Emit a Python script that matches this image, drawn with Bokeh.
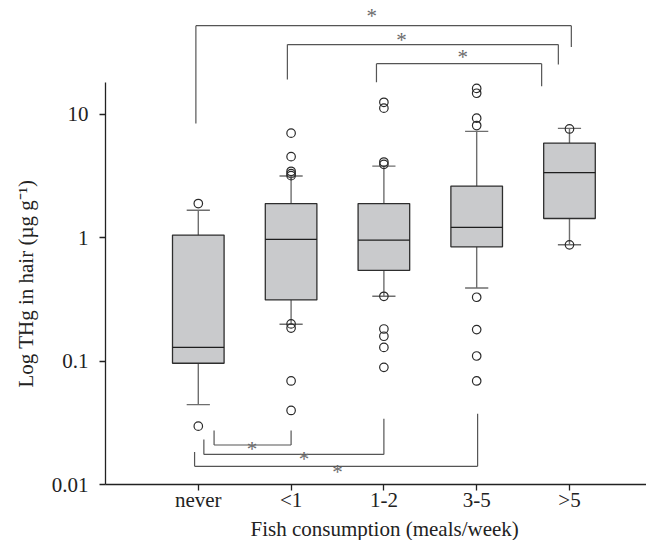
from bokeh.plotting import figure
from bokeh.models import FixedTicker, ColumnDataSource, Title
from bokeh.core.properties import value
from bokeh.embed import file_html
from bokeh.resources import INLINE

# ---- data ----
categories = ["never", "<1", "1-2", "3-5", ">5"]
positions = [1, 2, 3, 4, 5]
q1 = [0.096, 0.313, 0.543, 0.843, 1.43]
median = [0.129, 0.967, 0.954, 1.21, 3.37]
q3 = [1.05, 1.89, 1.89, 2.62, 5.84]
whisker_low = [0.0444, 0.199, 0.335, 0.391, 0.875]
whisker_high = [1.67, 3.16, 3.8, 7.26, 7.68]
outliers = [
    [1.89, 0.0297],
    [7.03, 4.53, 3.45, 3.3, 3.18, 0.2, 0.185, 0.069, 0.0398],
    [12.5, 11.2, 4.1, 3.93, 0.335, 0.182, 0.159, 0.129, 0.089],
    [16.2, 14.8, 9.3, 8.1, 0.329, 0.18, 0.11, 0.069],
    [7.6, 0.875],
]
y_ticks = [0.01, 0.1, 1, 10]
y_tick_labels = ["0.01", "0.1", "1", "10"]

# significance brackets (data units): left leg x, right leg x, bar level,
# left leg end, right leg end, star x, star y
sig_left_x = [0.974, 1.96, 2.92, 1.17, 1.06, 0.96]
sig_right_x = [5.02, 4.88, 4.70, 2.0, 3.0, 4.01]
sig_bar_y = [52.2, 36.7, 25.7, 0.0209, 0.01754, 0.01403]
sig_left_end = [8.43, 19.1, 18.2, 0.0274, 0.0232, 0.01835]
sig_right_end = [35.1, 25.3, 16.9, 0.0274, 0.0341, 0.0374]
sig_star_x = [2.868, 3.19, 3.85, 1.58, 2.14, 2.50]
sig_star_y = [62.0, 40.3, 29.2, 0.0195, 0.016, 0.01264]

x_title = "Fish consumption (meals/week)"
y_title = "Log  THg in hair (\u00b5g g\u207b\u00b9)"

FONT = "Liberation Serif"
FS = "21px"
BOX_W = 0.278
CAP_W = 0.125

p = figure(width=646, height=540, x_range=(0, 5.83), y_range=(0.01, 83.5),
           y_axis_type="log", output_backend="svg", toolbar_location=None,
           min_border_left=102, min_border_right=0, min_border_top=0,
           min_border_bottom=54)
p.xgrid.visible = False
p.ygrid.visible = False
p.outline_line_color = None
p.background_fill_color = "white"
p.border_fill_color = "white"

src = ColumnDataSource(dict(
    x=positions,
    left=[x - BOX_W for x in positions],
    right=[x + BOX_W for x in positions],
    cap_l=[x - CAP_W for x in positions],
    cap_r=[x + CAP_W for x in positions],
    q1=q1, q3=q3, med=median, lo=whisker_low, hi=whisker_high,
))

WH = "#6e6e6e"
# whiskers
p.segment(x0="x", y0="q3", x1="x", y1="hi", source=src, line_color=WH, line_width=1.4)
p.segment(x0="x", y0="q1", x1="x", y1="lo", source=src, line_color=WH, line_width=1.4)
p.segment(x0="cap_l", y0="hi", x1="cap_r", y1="hi", source=src, line_color=WH, line_width=1.4)
p.segment(x0="cap_l", y0="lo", x1="cap_r", y1="lo", source=src, line_color=WH, line_width=1.4)
# boxes
p.quad(left="left", right="right", bottom="q1", top="q3", source=src,
       fill_color="#c9cacc", line_color="#2e2e2e", line_width=1.3)
p.segment(x0="left", y0="med", x1="right", y1="med", source=src,
          line_color="#1e1e1e", line_width=1.3)

# outliers
ox, oy = [], []
for pos, vals in zip(positions, outliers):
    for v in vals:
        ox.append(pos)
        oy.append(v)
p.scatter(ox, oy, marker="circle", size=8.5, fill_color=None,
          line_color="#2a2a2a", line_width=1.2)

# significance brackets
SG = "#555555"
p.segment(x0=sig_left_x, y0=sig_bar_y, x1=sig_right_x, y1=sig_bar_y,
          line_color=SG, line_width=1.2)
p.segment(x0=sig_left_x, y0=sig_bar_y, x1=sig_left_x, y1=sig_left_end,
          line_color=SG, line_width=1.2)
p.segment(x0=sig_right_x, y0=sig_bar_y, x1=sig_right_x, y1=sig_right_end,
          line_color=SG, line_width=1.2)
p.text(x=sig_star_x, y=sig_star_y, text=["*"] * len(sig_star_x),
       text_font=value(FONT), text_font_size="21px", text_color="#6b6b6b",
       text_align="center", text_baseline="middle")

# axes
p.xaxis.ticker = FixedTicker(ticks=positions)
p.xaxis.major_label_overrides = dict(zip(positions, categories))
p.yaxis.ticker = FixedTicker(ticks=y_ticks)
p.yaxis.major_label_overrides = dict(zip(y_ticks, y_tick_labels))
p.yaxis.bounds = (0.01, 18)

for ax in (p.xaxis[0], p.yaxis[0]):
    ax.axis_line_color = "#222222"
    ax.axis_line_width = 1.3
    ax.major_tick_line_color = "#222222"
    ax.major_tick_line_width = 1.3
    ax.major_tick_out = 6
    ax.major_tick_in = 0
    ax.minor_tick_line_color = None
    ax.major_label_text_font = FONT
    ax.major_label_text_font_size = FS
    ax.major_label_text_color = "#222222"

p.xaxis.major_label_standoff = -3
p.yaxis.major_label_standoff = 11

# axis titles
p.add_layout(Title(text=x_title, text_font=FONT, text_font_size=FS,
                   text_font_style="normal", text_color="#222222",
                   align="left", offset=145, standoff=0), "below")
p.add_layout(Title(text=y_title, text_font=FONT, text_font_size=FS,
                   text_font_style="normal", text_color="#222222",
                   align="left", offset=97, standoff=22), "left")

open("out.html", "w").write(file_html(p, INLINE))
